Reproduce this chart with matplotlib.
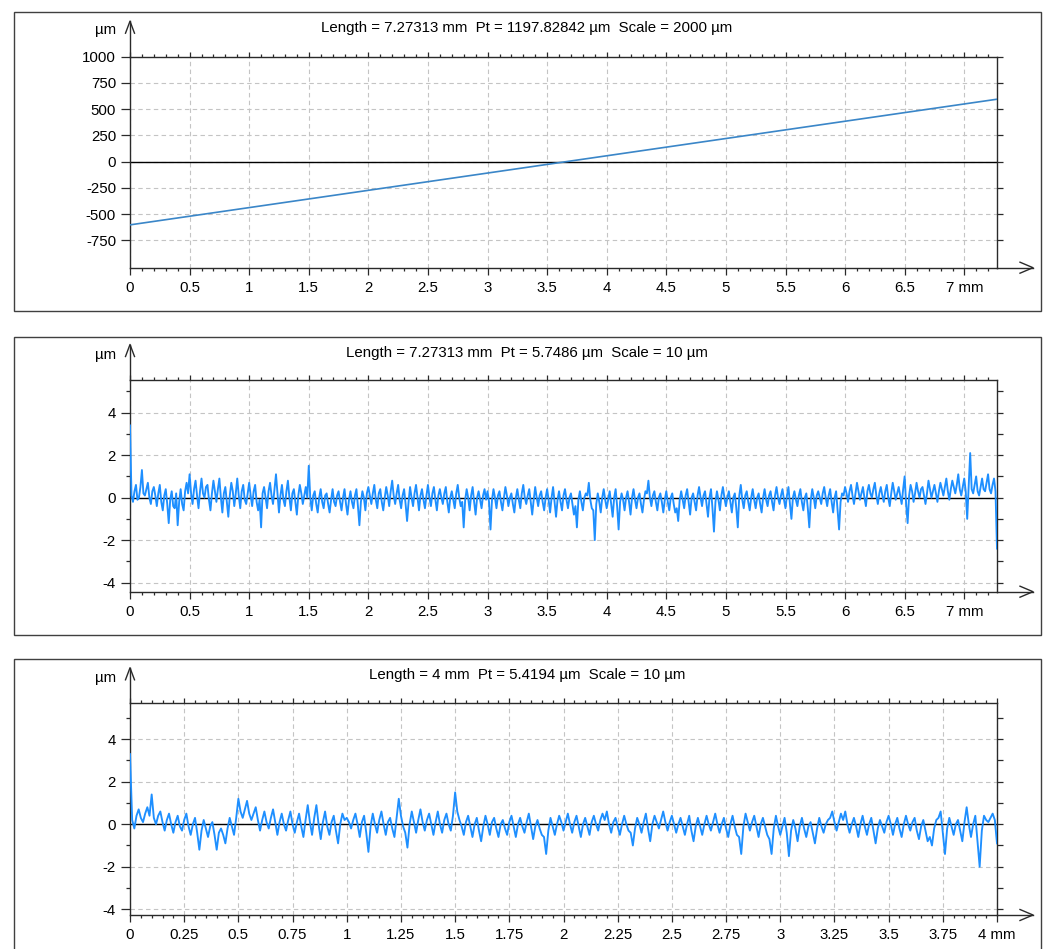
import matplotlib
matplotlib.use('Agg')
import matplotlib.pyplot as plt
from matplotlib.lines import Line2D
from matplotlib.patches import Rectangle
from matplotlib.ticker import FixedLocator, MultipleLocator
import numpy as np

plt.rcParams['font.family'] = ['Liberation Sans', 'DejaVu Sans']

W, H = 1046, 949

# --- data ---
form_len = 7.27313
form_z = [-602, 595]          # straight form profile, µm

# roughness profile, 7.27313 mm, one value every ~0.0125 mm
rough_len = 7.27313
rough_z = [
    3.4, 0.1, -0.2, 0.3, 0.6, -0.1, 0.0, 0.5, 1.3, 0.2, 0.1, 0.4, 0.7, 0.0, -0.3, 0.3, 0.5, 0.1, -0.4, 0.2,
    0.6, -0.2, -0.6, 0.1, 0.4, -0.3, -1.2, -0.1, 0.3, -0.4, -0.5, 0.2, -1.3, -0.2, 0.4, -0.3, -0.6, 0.3, 0.7, 0.2,
    1.1, 0.2, -0.3, 0.4, 0.8, 0.1, -0.5, 0.3, 0.9, 0.2, 0.0, 0.5, 0.6, -0.1, -0.6, 0.2, 0.8, 0.3, -0.2, 0.4,
    0.9, 0.0, -0.7, 0.2, 0.5, -0.2, -0.9, 0.1, 0.7, 0.3, -0.4, 0.2, 0.9, 0.1, -0.5, 0.3, 0.6, -0.1, -0.3, 0.2,
    0.7, 0.1, -0.4, 0.3, 0.6, -0.2, -0.6, -0.1, -1.4, 0.2, 0.5, 0.0, -0.5, 0.3, 0.7, 0.1, -0.3, 0.4, 1.1, 0.2,
    -0.7, 0.1, 0.6, -0.1, -0.4, 0.3, 0.8, 0.0, -0.6, 0.2, 0.4, -0.2, -0.8, 0.1, 0.6, 0.2, -0.3, 0.1, 0.5, 0.0,
    1.5, 0.0, -0.6, 0.1, 0.3, -0.3, -0.7, 0.0, 0.4, -0.2, -0.5, 0.1, 0.2, -0.3, -0.7, -0.1, 0.4, -0.2, -0.4, 0.1,
    0.3, -0.2, -0.6, 0.0, 0.4, -0.3, -0.8, -0.1, 0.3, -0.2, -0.5, 0.1, 0.4, -0.4, -1.3, -0.2, 0.3, 0.0, -0.6, 0.2,
    0.5, 0.1, -0.3, 0.2, 0.6, -0.1, -0.5, 0.2, 0.4, -0.2, -0.6, 0.0, 0.5, 0.1, -0.4, 0.3, 0.8, 0.1, -0.3, 0.2,
    0.6, -0.1, -0.5, 0.1, 0.4, -0.3, -1.1, -0.2, 0.5, 0.0, -0.4, 0.2, 0.6, 0.0, -0.6, 0.1, 0.4, -0.1, -0.5, 0.1,
    0.6, 0.0, -0.4, 0.2, 0.5, -0.1, -0.6, 0.1, 0.4, 0.0, -0.3, 0.2, 0.5, -0.2, -0.7, 0.0, 0.3, -0.1, -0.5, 0.2,
    0.6, 0.0, -0.4, -0.2, -1.4, -0.1, 0.4, 0.0, -0.6, 0.1, 0.5, -0.2, -0.8, 0.0, 0.3, -0.1, -0.5, 0.1, 0.4, -0.1,
    0.3, -0.2, -1.5, -0.1, 0.4, 0.0, -0.5, 0.1, 0.3, -0.2, -0.6, 0.0, 0.5, 0.1, -0.4, 0.0, 0.2, -0.3, -0.7, 0.0,
    0.4, -0.1, -0.5, 0.2, 0.6, 0.0, -0.3, 0.1, 0.4, -0.2, -0.8, -0.1, 0.5, 0.0, -0.4, 0.1, 0.3, -0.2, -0.6, 0.0,
    0.4, -0.1, -0.7, 0.0, 0.5, -0.2, -0.9, -0.1, 0.3, -0.2, -0.6, 0.1, 0.4, -0.1, -0.5, 0.0, 0.2, -0.3, -0.8, -0.4,
    -1.4, -0.1, 0.3, -0.2, -0.6, 0.0, 0.2, 0.1, 0.7, -0.1, -0.5, -0.6, -2.0, -0.3, 0.2, -0.2, -0.7, 0.0, 0.4, -0.1,
    -0.5, -0.1, 0.3, -0.3, -0.9, 0.0, 0.4, -0.4, -1.5, -0.2, 0.2, -0.1, -0.6, 0.0, 0.3, -0.2, -0.8, 0.0, 0.4, -0.1,
    -0.5, 0.0, 0.2, -0.3, -0.7, -0.1, 0.3, 0.2, 0.8, 0.0, -0.4, 0.1, 0.3, -0.2, -0.6, 0.0, 0.2, -0.2, -0.7, -0.1,
    0.3, -0.2, -0.6, 0.0, 0.2, -0.3, -0.7, -0.5, -1.1, -0.1, 0.3, -0.1, -0.5, 0.1, 0.4, -0.2, -0.8, 0.0, 0.2, -0.2,
    -0.6, 0.1, 0.5, 0.0, -0.4, 0.1, 0.3, -0.3, -0.9, 0.0, 0.4, -0.5, -1.6, -0.2, 0.3, -0.1, -0.6, 0.1, 0.5, 0.0,
    -0.4, 0.0, 0.3, -0.2, -0.7, 0.0, 0.2, -0.5, -1.4, 0.1, 0.6, -0.1, -0.5, 0.1, 0.3, -0.2, -0.6, 0.0, 0.4, -0.1,
    -0.5, 0.0, 0.2, -0.3, -0.7, 0.0, 0.4, -0.1, -0.4, 0.1, 0.3, -0.2, -0.6, 0.1, 0.5, 0.0, -0.3, 0.1, 0.4, -0.1,
    -0.5, 0.1, 0.5, -0.3, -1.0, 0.0, 0.3, -0.1, -0.4, 0.1, 0.4, -0.2, -0.6, 0.0, 0.2, -0.5, -1.4, -0.1, 0.4, 0.0,
    -0.5, 0.1, 0.3, 0.0, -0.3, 0.2, 0.5, 0.0, -0.4, 0.1, 0.4, -0.2, -0.7, 0.0, 0.3, -0.6, -1.5, -0.2, 0.2, 0.1,
    0.5, 0.2, -0.2, 0.3, 0.6, 0.1, -0.3, 0.2, 0.7, 0.3, -0.1, 0.2, 0.5, 0.0, -0.4, 0.3, 0.6, 0.2, 0.0, 0.4,
    0.7, 0.1, -0.3, 0.2, 0.5, 0.1, -0.2, 0.3, 0.6, 0.0, -0.4, 0.2, 0.7, 0.3, -0.1, 0.2, 0.5, 0.1, -0.3, 0.4,
    1.0, -0.3, -1.2, 0.1, 0.6, 0.3, -0.2, 0.2, 0.7, 0.3, 0.0, 0.4, 0.5, 0.1, -0.3, 0.2, 0.8, 0.4, 0.0, 0.3,
    0.6, 0.2, -0.2, 0.3, 0.7, 0.4, 0.1, 0.5, 0.9, 0.3, -0.1, 0.4, 0.8, 0.5, 0.2, 0.6, 1.1, 0.4, 0.1, 0.5,
    0.9, 0.3, -1.0, 0.6, 2.1, 0.4, 0.2, 0.6, 1.0, 0.3, 0.1, 0.5, 0.9, 0.4, 0.3, 0.7, 1.1, 0.4, 0.2, 0.6,
    0.9, 0.3, -2.4,
]

# roughness profile, 4 mm, one value every 0.01 mm
short_len = 4.0
short_z = [
    3.3, 0.2, -0.2, 0.4, 0.7, 0.3, 0.1, 0.5, 0.8, 0.4, 1.4, 0.3, 0.0, 0.4, 0.6, 0.1, -0.3, 0.2, 0.5, 0.0, -0.4, 0.1, 0.4, -0.1, -0.3,
    0.2, 0.5, -0.1, -0.5, 0.0, 0.3, -0.4, -1.2, -0.3, 0.2, -0.2, -0.6, -0.1, 0.1, -0.5, -1.2, -0.4, -0.2, -0.5, -0.9, -0.2, 0.3, -0.1, -0.5, 0.3,
    1.2, 0.6, 0.3, 0.7, 1.1, 0.5, 0.2, 0.5, 0.8, 0.2, -0.3, 0.2, 0.6, 0.1, -0.2, 0.3, 0.7, 0.1, -0.5, 0.1, 0.5, 0.0, -0.3, 0.2, 0.6,
    0.0, -0.4, 0.1, 0.5, -0.1, -0.6, 0.2, 0.9, 0.1, -0.5, 0.3, 0.9, 0.0, -0.7, 0.1, 0.6, -0.1, -0.5, 0.1, 0.4, -0.3, -0.9, 0.0, 0.5, 0.2,
    0.3, 0.1, -0.2, 0.2, 0.5, 0.0, -0.6, 0.1, 0.4, -0.4, -1.3, -0.1, 0.5, 0.0, -0.4, 0.2, 0.6, 0.0, -0.5, 0.1, 0.3, -0.2, -0.6, 0.3, 1.2,
    0.4, -0.1, -0.4, -1.1, 0.0, 0.6, 0.1, -0.4, 0.2, 0.7, 0.1, -0.3, 0.2, 0.5, 0.0, -0.5, 0.1, 0.6, 0.0, -0.4, 0.2, 0.5, 0.0, -0.3, 0.4,
    1.5, 0.6, 0.2, -0.1, -0.5, 0.1, 0.4, -0.1, -0.6, 0.0, 0.3, -0.3, -0.8, -0.1, 0.4, 0.0, -0.5, 0.1, 0.3, -0.2, -0.6, 0.0, 0.2, -0.2, -0.5,
    0.1, 0.4, -0.1, -0.6, 0.0, 0.3, -0.1, -0.4, 0.1, 0.5, -0.1, -0.7, -0.1, 0.2, -0.2, -0.5, -0.6, -1.4, -0.3, 0.3, -0.1, -0.5, 0.0, 0.4, 0.1,
    -0.3, 0.1, 0.5, 0.0, -0.4, 0.1, 0.4, -0.1, -0.6, 0.0, 0.3, -0.1, -0.5, 0.1, 0.4, 0.0, -0.3, 0.2, 0.5, 0.2, 0.6, 0.0, -0.4, 0.1, 0.3,
    -0.1, -0.5, 0.0, 0.4, 0.0, -0.3, -0.4, -1.0, -0.2, 0.3, 0.0, -0.4, 0.1, 0.5, -0.2, -0.8, 0.0, 0.4, 0.1, -0.2, 0.2, 0.6, 0.1, -0.3, 0.1,
    0.4, 0.0, -0.4, 0.0, 0.3, -0.1, -0.5, 0.0, 0.4, -0.3, -0.8, -0.1, 0.3, -0.1, -0.5, 0.0, 0.4, 0.0, -0.3, 0.1, 0.5, 0.0, -0.4, 0.0, 0.3,
    -0.2, -0.6, 0.0, 0.4, -0.1, -0.5, -0.6, -1.4, -0.1, 0.5, 0.1, -0.3, 0.1, 0.4, -0.1, -0.6, 0.0, 0.3, -0.1, -0.5, -0.7, -1.4, -0.2, 0.4, -0.1,
    -0.5, -0.1, 0.3, -0.4, -1.5, -0.3, 0.2, -0.2, -0.8, -0.1, 0.3, -0.2, -0.6, -0.1, 0.1, -0.4, -0.9, -0.2, 0.3, -0.1, -0.4, 0.0, 0.2, 0.3, 0.6,
    0.1, -0.3, 0.1, 0.5, 0.2, 0.6, 0.0, -0.4, 0.0, 0.3, -0.1, -0.6, 0.0, 0.4, -0.1, -0.5, 0.0, 0.3, -0.3, -0.9, -0.2, 0.2, -0.1, -0.4, 0.1,
    0.4, 0.0, -0.5, 0.0, 0.3, -0.2, -0.6, 0.0, 0.4, 0.0, -0.3, 0.1, 0.3, -0.3, -0.7, -0.1, 0.2, -0.3, -0.8, -0.6, -1.0, -0.2, 0.2, 0.3, 0.6,
    -0.4, -1.4, -0.2, 0.3, -0.1, -0.5, 0.0, 0.2, -0.3, -0.8, 0.1, 0.8, 0.0, -0.6, 0.0, 0.4, -0.8, -2.0, -0.3, 0.4, 0.2, 0.1, 0.3, 0.5, 0.2,
    -0.9,
]

long_ticks = [0, 0.5, 1, 1.5, 2, 2.5, 3, 3.5, 4, 4.5, 5, 5.5, 6, 6.5, 7]
long_labels = ['0', '0.5', '1', '1.5', '2', '2.5', '3', '3.5', '4', '4.5',
               '5', '5.5', '6', '6.5', '7 mm']
short_ticks = [0, 0.25, 0.5, 0.75, 1, 1.25, 1.5, 1.75, 2, 2.25, 2.5, 2.75,
               3, 3.25, 3.5, 3.75, 4]
short_labels = ['0', '0.25', '0.5', '0.75', '1', '1.25', '1.5', '1.75', '2',
                '2.25', '2.5', '2.75', '3', '3.25', '3.5', '3.75', '4 mm']
form_yticks = [-750, -500, -250, 0, 250, 500, 750, 1000]
rough_yticks = [-4, -2, 0, 2, 4]
rough_yminor = [-3, -1, 1, 3, 5]

titles = [
    'Length = 7.27313 mm  Pt = 1197.82842 µm  Scale = 2000 µm',
    'Length = 7.27313 mm  Pt = 5.7486 µm  Scale = 10 µm',
    'Length = 4 mm  Pt = 5.4194 µm  Scale = 10 µm',
]

FS = 10.8
DARK = '#2a2a2a'
GRID = '#c4c4c4'


def fx(px):
    return px / W


def fy(py):
    return 1 - py / H


def fline(fig, xs, ys, lw=1.0):
    fig.add_artist(Line2D([fx(v) for v in xs], [fy(v) for v in ys],
                          transform=fig.transFigure, color=DARK, lw=lw))


fig = plt.figure(figsize=(W / 100, H / 100), dpi=100)

# (axes box px, frame box px, ylim, title baseline, unit baseline)
layout = [
    ((130, 56.7, 997, 267.7), (14, 12, 1041, 311), (-1010, 1000), 32, 34),
    ((130, 380, 997, 591.7), (14, 337, 1041, 635), (-4.43, 5.54), 357, 359),
    ((130, 703.3, 997, 915), (14, 659, 1041, 965), (-4.27, 5.69), 679, 682),
]

profiles = [
    (np.array([0.0, form_len]), np.array(form_z), form_len, '#3a86c8', 1.2),
    (np.linspace(0, rough_len, len(rough_z)), np.array(rough_z), rough_len, '#1e8fff', 1.35),
    (np.linspace(0, short_len, len(short_z)), np.array(short_z), short_len, '#1e8fff', 1.35),
]

for i, (box, frame, ylim, tb, ub) in enumerate(layout):
    x0, y0, x1, y1 = box
    fig.add_artist(Rectangle((fx(frame[0]), fy(frame[3])),
                             fx(frame[2]) - fx(frame[0]), fy(frame[1]) - fy(frame[3]),
                             transform=fig.transFigure, fill=False, ec='#404040', lw=1.0))
    ax = fig.add_axes([fx(x0), fy(y1), fx(x1) - fx(x0), fy(y0) - fy(y1)])
    xs, zs, length, color, lw = profiles[i]
    ax.plot(xs, zs, color=color, lw=lw, zorder=3)
    ax.axhline(0, color='black', lw=1.0, zorder=2)
    ax.set_xlim(0, length)
    ax.set_ylim(*ylim)

    if i == 2:
        ax.xaxis.set_major_locator(FixedLocator(short_ticks))
        ax.set_xticklabels(short_labels)
        ax.xaxis.set_minor_locator(MultipleLocator(0.05))
    else:
        ax.xaxis.set_major_locator(FixedLocator(long_ticks))
        ax.set_xticklabels(long_labels)
        ax.xaxis.set_minor_locator(MultipleLocator(0.1))
    if i == 0:
        ax.yaxis.set_major_locator(FixedLocator(form_yticks))
        ax.set_yticklabels([str(v) for v in form_yticks])
    else:
        ax.yaxis.set_major_locator(FixedLocator(rough_yticks))
        ax.set_yticklabels([str(v) for v in rough_yticks])
        ax.yaxis.set_minor_locator(FixedLocator(rough_yminor))

    for s in ax.spines.values():
        s.set_color(DARK)
        s.set_linewidth(1.0)
    ax.grid(True, which='major', color=GRID, lw=0.8, ls=(0, (4, 3)), zorder=1)
    ax.set_axisbelow(True)

    ax.tick_params(axis='x', which='both', top=True, bottom=True, direction='out',
                   color=DARK, width=0.9, labelsize=FS, pad=4.5)
    ax.tick_params(axis='x', which='major', length=5)
    ax.tick_params(axis='x', which='minor', length=2.4)
    ax.tick_params(axis='y', which='both', left=True, right=True, direction='out',
                   color=DARK, width=0.9, labelsize=FS, pad=3.5)
    ax.tick_params(axis='y', which='major', length=6.5)
    ax.tick_params(axis='y', which='minor', length=3)

    for t in ax.xaxis.get_major_ticks():
        t.tick2line.set_markersize(3.6)
    for t in ax.xaxis.get_minor_ticks():
        t.tick2line.set_markersize(2.2)
    for t in ax.yaxis.get_major_ticks() + ax.yaxis.get_minor_ticks():
        t.tick2line.set_markersize(4.3)

    # axis arrows
    tip_y = y0 - 35.5
    fline(fig, [x0, x0], [y0, tip_y])
    fline(fig, [x0 - 4.5, x0, x0 + 4.5], [tip_y + 12, tip_y, tip_y + 12])
    tip_x = 1033
    fline(fig, [x1, tip_x], [y1, y1])
    fline(fig, [tip_x - 13, tip_x, tip_x - 13], [y1 - 5.5, y1, y1 + 5.5])

    fig.text(fx(527), fy(tb), titles[i], ha='center', va='baseline', fontsize=FS)
    fig.text(fx(106), fy(ub), 'µm', ha='center', va='baseline', fontsize=FS)

fig.savefig('out.png', dpi=100)
